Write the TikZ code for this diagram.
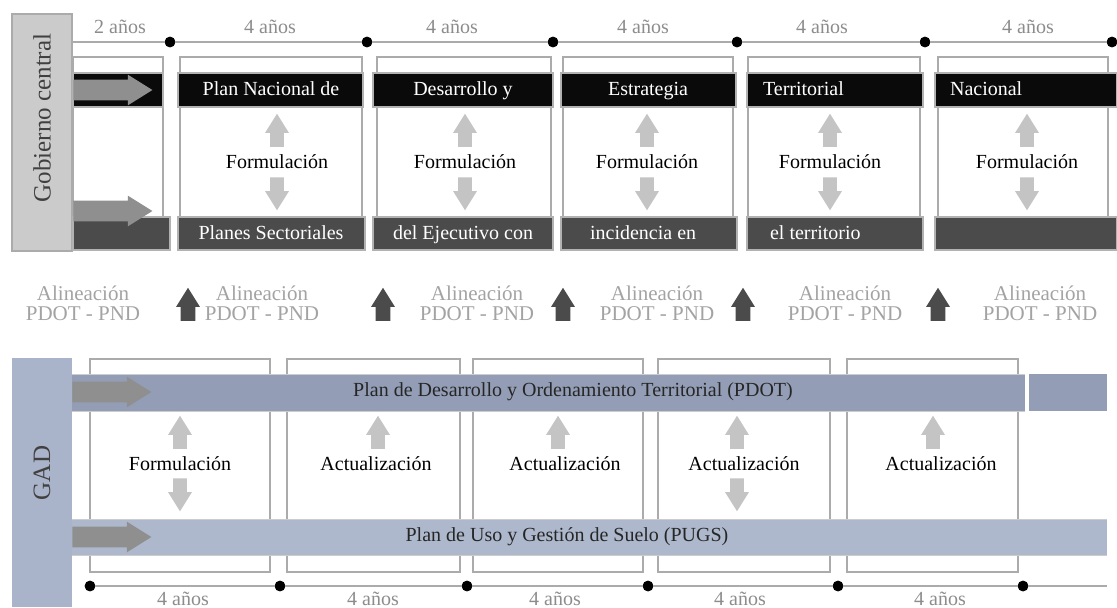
\documentclass[tikz,border=0pt]{standalone}
\usepackage{fontspec}
\setmainfont{Liberation Serif}
\usetikzlibrary{shapes,positioning}
\definecolor{govgray}{HTML}{CBCBCB}
\definecolor{framegray}{HTML}{ABABAB}
\definecolor{darkbar}{HTML}{4B4B4B}
\definecolor{lightarr}{HTML}{C4C4C4}
\definecolor{midarr}{HTML}{8F8F8F}
\definecolor{yeargray}{HTML}{8C8C8C}
\definecolor{aligngray}{HTML}{A3A3A3}
\definecolor{gadblue}{HTML}{A9B3C9}
\definecolor{pdotblue}{HTML}{939EB6}
\definecolor{pugsblue}{HTML}{AEB8CC}
\tikzset{font=\fontsize{10}{11}\selectfont}
\tikzstyle{dot}=[circle,fill=black,draw,inner sep=0pt,minimum size=5pt]
\tikzstyle{tline}=[draw=framegray,line width=1pt]
\tikzstyle{yrs}=[text=yeargray]
\tikzstyle{colbox}=[draw=framegray,line width=1pt,fill=white]
\tikzstyle{blk}=[fill=black!96,draw=gray!60,line width=0.6pt]
\tikzstyle{drk}=[fill=darkbar,draw=gray!60,line width=0.6pt]
\tikzstyle{bartxt}=[text=white,text height=1.6ex,text depth=.3ex]
\tikzstyle{arr}=[single arrow,draw=none,inner xsep=0pt,single arrow tip angle=64]
\tikzstyle{small}=[arr,inner ysep=3.25pt,single arrow head extend=2.5pt,minimum height=16.5pt,anchor=tip]
\tikzstyle{uparr}=[small,fill=lightarr,rotate=90]
\tikzstyle{dnarr}=[small,fill=lightarr,rotate=-90]
\tikzstyle{harr}=[arr,fill=midarr,inner ysep=5pt,single arrow head extend=2.5pt,minimum height=39.5pt,anchor=tail]
\tikzstyle{alarr}=[small,fill=darkbar,inner ysep=3.5pt,single arrow head extend=2.25pt,rotate=90]
\tikzstyle{algn}=[text=aligngray,align=center,font=\fontsize{10.5}{10}\selectfont]

\begin{document}
\begin{tikzpicture}[x=0.5pt,y=-0.5pt]
\useasboundingbox (0,0) rectangle (1117,607);

%%% Gobierno central
\filldraw[fill=govgray,draw=framegray,line width=1pt] (12,14) rectangle (72,251);
\node[rotate=90,font=\fontsize{12.5}{14}\selectfont,text=black!75] (gob) at (42,118) {Gobierno central};

\foreach \a/\b in {73/163,180/362,377/551,563/733,748/920,938/1108}
  \draw[colbox] (\a,57) rectangle (\b,240);
\foreach \a/\b in {73/163,178/363,373/553,561/736,747/923,935/1117}
  \draw[blk] (\a,73) rectangle (\b,107);
\foreach \a/\b in {73/170,178/365,373/553,561/737,747/923,935/1117}
  \draw[drk] (\a,217) rectangle (\b,250);

\node[harr] (g1) at (73,90) {};
\node[harr] (g2) at (73,211) {};

\node[bartxt] (p1) at (271,90) {Plan Nacional de};
\node[bartxt] (p2) at (463,90) {Desarrollo y};
\node[bartxt] (p3) at (648,90) {Estrategia};
\node[bartxt,anchor=west] (p4) at (756,90) {Territorial};
\node[bartxt,anchor=west] (p5) at (943,90) {Nacional};
\node[bartxt] (s1) at (271,234) {Planes Sectoriales};
\node[bartxt] (s2) at (463,234) {del Ejecutivo con};
\node[bartxt,anchor=west] (s3) at (583,234) {incidencia en};
\node[bartxt,anchor=west] (s4) at (763,234) {el territorio};

\foreach \n/\x in {1/277,2/465,3/647,4/830,5/1027}{
  \node[uparr] (fu\n) at (\x,113) {};
  \node (f\n) at (\x,162) {Formulación};
  \node[dnarr] (fd\n) at (\x,211) {};
}

% timeline
\coordinate (t0) at (73,42);
\foreach \n/\x in {1/170,2/367,3/553,4/737,5/925,6/1112}
  \node[dot] (t\n) at (\x,42) {};
\coordinate (t7) at (1117,42);
\draw[tline] (t0) -- (t1) -- (t2) -- (t3) -- (t4) -- (t5) -- (t6) -- (t7);
\node[yrs] (y0) at (120,27) {2 años};
\foreach \n/\x in {1/270,2/452,3/643,4/822,5/1028}
  \node[yrs] (y\n) at (\x,27) {4 años};

%%% Alineacion
\foreach \n/\x in {1/83,2/262,3/477,4/657,5/845,6/1040}
  \node[algn] (al\n) at (\x,303) {Alineación\\PDOT - PND};
\foreach \n/\x in {1/188,2/383,3/563,4/743,5/938}
  \node[alarr] (aa\n) at (\x,287) {};

%%% GAD
\fill[gadblue] (12,358) rectangle (72,607);
\node[rotate=90,font=\fontsize{12.5}{14}\selectfont,text=black!75] (gad) at (42,473) {GAD};

\foreach \a/\b in {90/270,287/460,473/643,658/830,847/1018}
  \draw[colbox] (\a,359) rectangle (\b,572);
\fill[pdotblue] (72,374) rectangle (1025,411);
\fill[pdotblue] (1029,374) rectangle (1107,411);
\fill[pugsblue] (72,519) rectangle (1107,555);
\draw[gray!40,line width=0.5pt] (72,374) -- (1025,374) (72,411) -- (1025,411)
  (72,519) -- (1107,519) (72,555) -- (1107,555);

\node[harr] (h1) at (72,392) {};
\node[harr] (h2) at (72,537) {};
\node[text=black!85] (pdot) at (573,392) {Plan de Desarrollo y Ordenamiento Territorial (PDOT)};
\node[text=black!85] (pugs) at (567,537) {Plan de Uso y Gestión de Suelo (PUGS)};

\foreach \n/\x in {1/180,2/378,3/558,4/737,5/933}
  \node[uparr] (au\n) at (\x,415) {};
\node[dnarr] (ad1) at (180,512) {};
\node[dnarr] (ad4) at (737,512) {};
\node (a1) at (180,464) {Formulación};
\foreach \n/\x in {2/376,3/565,4/744,5/941}
  \node (a\n) at (\x,464) {Actualización};

% timeline
\foreach \n/\x in {1/90,2/280,3/467,4/648,5/838,6/1023}
  \node[dot] (b\n) at (\x,586) {};
\coordinate (b7) at (1107,586);
\draw[tline] (b1) -- (b2) -- (b3) -- (b4) -- (b5) -- (b6) -- (b7);
\foreach \n/\x in {1/183,2/373,3/555,4/740,5/940}
  \node[yrs] (z\n) at (\x,599) {4 años};
\end{tikzpicture}
\end{document}
